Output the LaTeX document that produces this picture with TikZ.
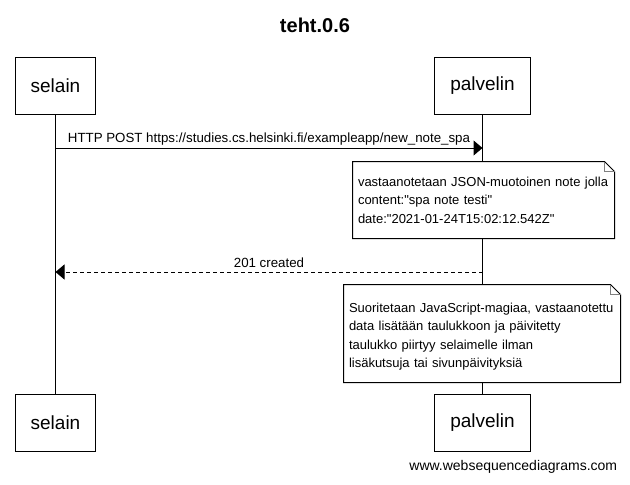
\documentclass[tikz,border=0pt]{standalone}
\usepackage{fontspec}
\setmainfont{Liberation Sans}[Ligatures=TeXOff]
\usetikzlibrary{arrows.meta}

\begin{document}
\begin{tikzpicture}[x=1pt, y=-1pt, line width=1pt,
    actor/.style={draw, font=\fontsize{19}{23}\selectfont, minimum height=57pt, inner xsep=15.5pt},
    note/.style={fill=white, font=\fontsize{13}{18.5}\selectfont, align=left, inner xsep=5pt, inner ysep=0pt},
    msg/.style={-{Triangle[length=9pt,width=15pt]}},
    reply/.style={msg, dash pattern=on 4pt off 3pt},
    msgtext/.style={font=\fontsize{13.3}{16}\selectfont, anchor=base}]
    \useasboundingbox (0,0) rectangle (630,485);

    % Title
    \node[font=\bfseries\fontsize{20}{24}\selectfont, anchor=base] (title) at (315,32) {teht.0.6};

    % Participants
    \node[actor] (selainTop) at (55.5,85.5) {selain};
    \node[actor] (palvelinTop) at (482.5,85.5) {palvelin};
    \node[actor] (selainBot) at (55.5,422.5) {selain};
    \node[actor] (palvelinBot) at (482.5,422.5) {palvelin};

    % Lifelines
    \draw (selainTop) -- (selainBot);
    \draw (palvelinTop) -- (palvelinBot);

    % Messages
    \draw[msg] (selainTop.south |- 0,148) -- (palvelinTop.south |- 0,148)
        node[msgtext, midway, yshift=6pt] {HTTP POST https://studies.cs.helsinki.fi/exampleapp/new\_note\_spa};
    \draw[reply] (palvelinTop.south |- 0,272) -- (selainTop.south |- 0,272)
        node[msgtext, midway, yshift=5pt] {201 created};

    % Notes
    \node[note, minimum width=261pt, minimum height=76pt, text width=251pt] (noteJson) at (483.5,200)
        {vastaanotetaan JSON-muotoinen note jolla\\content:"spa note testi"\\date:"2021-01-24T15:02:12.542Z"};
    \node[note, minimum width=276pt, minimum height=97pt, text width=266pt] (noteJs) at (482,333.5)
        {\rule{0pt}{16pt}Suoritetaan JavaScript-magiaa, vastaanotettu\\data lisätään taulukkoon ja päivitetty\\taulukko piirtyy selaimelle ilman\\lisäkutsuja tai sivunpäivityksiä};
    \foreach \n in {noteJson,noteJs} {
        \draw (\n.north west) -- ([xshift=-10pt]\n.north east) -- ([yshift=-10pt]\n.north east)
            -- (\n.south east) -- (\n.south west) -- cycle;
        \draw[gray] ([xshift=-10pt]\n.north east) |- ([yshift=-10pt]\n.north east);
    }

    % Watermark
    \node[font=\fontsize{14}{17}\selectfont, anchor=base east] (site) at (621,470) {www.websequencediagrams.com};
\end{tikzpicture}
\end{document}
